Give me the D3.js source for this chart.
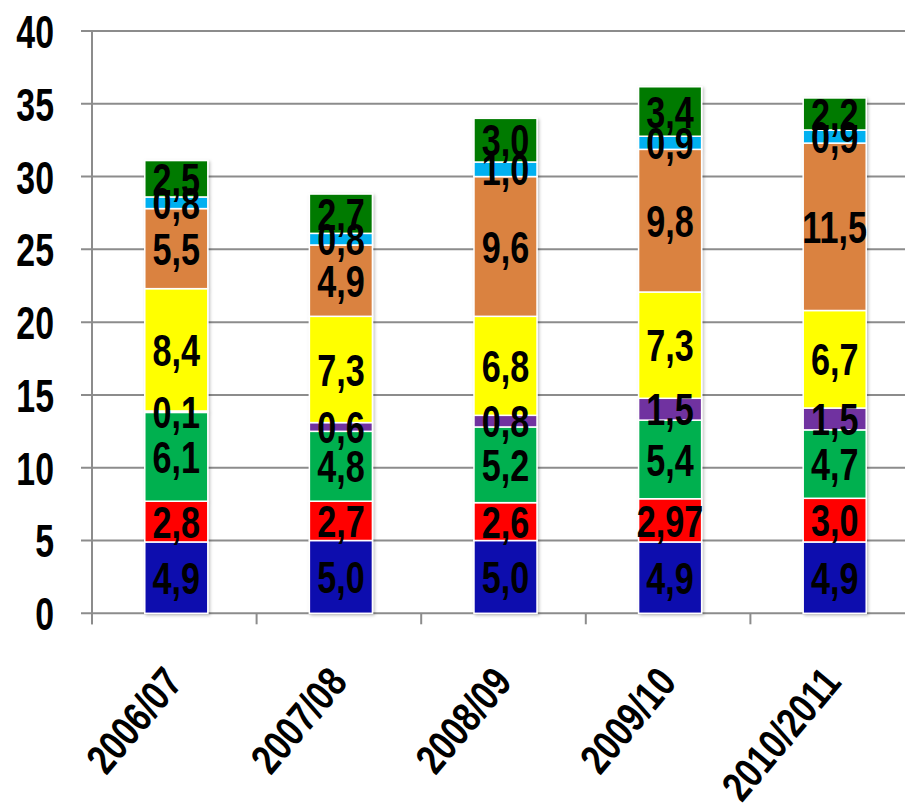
<!DOCTYPE html>
<html>
<head>
<meta charset="utf-8">
<script src="https://cdn.jsdelivr.net/npm/d3@7/dist/d3.min.js"></script>
<style>
  body { margin: 0; background: #fff; }
  text { font-family: "Liberation Sans", Arial, sans-serif; font-weight: bold; }
</style>
</head>
<body>
<div id="chart"></div>
<script>
// categories (seasons)
const years = ['2006/07', '2007/08', '2008/09', '2009/10', '2010/2011'];

// series, bottom to top
const blue      = [4.9, 5.0, 5.0, 4.9, 4.9];
const red       = [2.8, 2.7, 2.6, 2.97, 3.0];
const green     = [6.1, 4.8, 5.2, 5.4, 4.7];
const purple    = [0.1, 0.6, 0.8, 1.5, 1.5];
const yellow    = [8.4, 7.3, 6.8, 7.3, 6.7];
const orange    = [5.5, 4.9, 9.6, 9.8, 11.5];
const lightBlue = [0.8, 0.8, 1.0, 0.9, 0.9];
const darkGreen = [2.5, 2.7, 3.0, 3.4, 2.2];

// labels as printed on the chart
const labelText = {
  red: ['2,8', '2,7', '2,6', '2,97', '3,0']
};

const yTicks = [0, 5, 10, 15, 20, 25, 30, 35, 40];

const seriesList = [
  {key: 'blue', values: blue, color: '#1109ae'},
  {key: 'red', values: red, color: '#ff0000'},
  {key: 'green', values: green, color: '#00b050'},
  {key: 'purple', values: purple, color: '#7030a0'},
  {key: 'yellow', values: yellow, color: '#ffff00'},
  {key: 'orange', values: orange, color: '#da8240'},
  {key: 'lightBlue', values: lightBlue, color: '#00b0f0'},
  {key: 'darkGreen', values: darkGreen, color: '#007a00'}
];

const width = 905, height = 812;
const margin = {top: 31, left: 92, bottom: 199};
const squeeze = 0.76; // the chart's text is a condensed face

const rows = years.map((y, i) => {
  const r = {year: y};
  seriesList.forEach(s => r[s.key] = s.values[i]);
  return r;
});

const stack = d3.stack().keys(seriesList.map(s => s.key));
const stacked = stack(rows);

const x = d3.scaleBand()
  .domain(years)
  .range([margin.left, margin.left + 823])
  .paddingInner(0.617)
  .paddingOuter(0.3085);

const y = d3.scaleLinear()
  .domain([0, 40])
  .range([height - margin.bottom + 0.3, margin.top]);

const svg = d3.select('#chart').append('svg')
  .attr('width', width)
  .attr('height', height);

const defs = svg.append('defs');
const f = defs.append('filter').attr('id', 'shadow')
  .attr('x', '-20%').attr('y', '-20%').attr('width', '140%').attr('height', '140%');
f.append('feDropShadow')
  .attr('dx', 1.5).attr('dy', 1.5)
  .attr('stdDeviation', 1.5)
  .attr('flood-color', '#000')
  .attr('flood-opacity', 0.25);

// GRID
svg.append('g')
  .selectAll('line')
  .data(yTicks)
  .enter().append('line')
  .attr('x1', margin.left - 11)
  .attr('x2', width)
  .attr('y1', d => y(d))
  .attr('y2', d => y(d))
  .attr('stroke', '#8c8c8c')
  .attr('stroke-width', 2);

// y axis line
svg.append('line')
  .attr('x1', margin.left).attr('x2', margin.left)
  .attr('y1', y(40)).attr('y2', y(0) + 11)
  .attr('stroke', '#8c8c8c')
  .attr('stroke-width', 2);

// x ticks at category boundaries
const step = x.step();
svg.append('g')
  .selectAll('line')
  .data(d3.range(years.length + 1))
  .enter().append('line')
  .attr('x1', i => margin.left + i * step)
  .attr('x2', i => margin.left + i * step)
  .attr('y1', y(0))
  .attr('y2', y(0) + 11)
  .attr('stroke', '#8c8c8c')
  .attr('stroke-width', 2);

// y tick labels
svg.append('g')
  .selectAll('text')
  .data(yTicks)
  .enter().append('text')
  .attr('transform', d => `translate(54, ${y(d)}) scale(0.72, 1)`)
  .attr('dy', '0.36em')
  .attr('text-anchor', 'end')
  .attr('font-size', 47)
  .text(d => d);

// BARS
const layers = svg.append('g').attr('filter', 'url(#shadow)')
  .selectAll('g')
  .data(stacked)
  .enter().append('g')
  .attr('fill', (d, i) => seriesList[i].color);

layers.selectAll('rect')
  .data(d => d)
  .enter().append('rect')
  .attr('x', d => x(d.data.year) + 2)
  .attr('y', d => y(d[1]))
  .attr('width', x.bandwidth())
  .attr('height', d => y(d[0]) - y(d[1]))
  .attr('stroke', '#fff')
  .attr('stroke-width', 1.5);

// VALUE LABELS
const labels = svg.append('g');
stacked.forEach((layer, si) => {
  const key = seriesList[si].key;
  labels.selectAll('.lbl-' + key)
    .data(layer)
    .enter().append('text')
    .attr('class', 'lbl-' + key)
    .attr('transform', d => `translate(${x(d.data.year) + 2 + x.bandwidth() / 2}, ${y((d[0] + d[1]) / 2)}) scale(${squeeze}, 1)`)
    .attr('dy', '0.36em')
    .attr('text-anchor', 'middle')
    .attr('font-size', 45)
    .attr('fill', '#000')
    .text((d, i) => labelText[key] ? labelText[key][i]
      : d3.format('.1f')(d.data[key]).replace('.', ','));
});

// x labels
svg.append('g')
  .selectAll('text')
  .data(years)
  .enter().append('text')
  .attr('transform', d => `translate(${x(d) + x.bandwidth() / 2 + 10}, ${y(0) + 70}) rotate(-50) scale(0.8, 1)`)
  .attr('text-anchor', 'end')
  .attr('font-size', 42)
  .text(d => d);
</script>
</body>
</html>
